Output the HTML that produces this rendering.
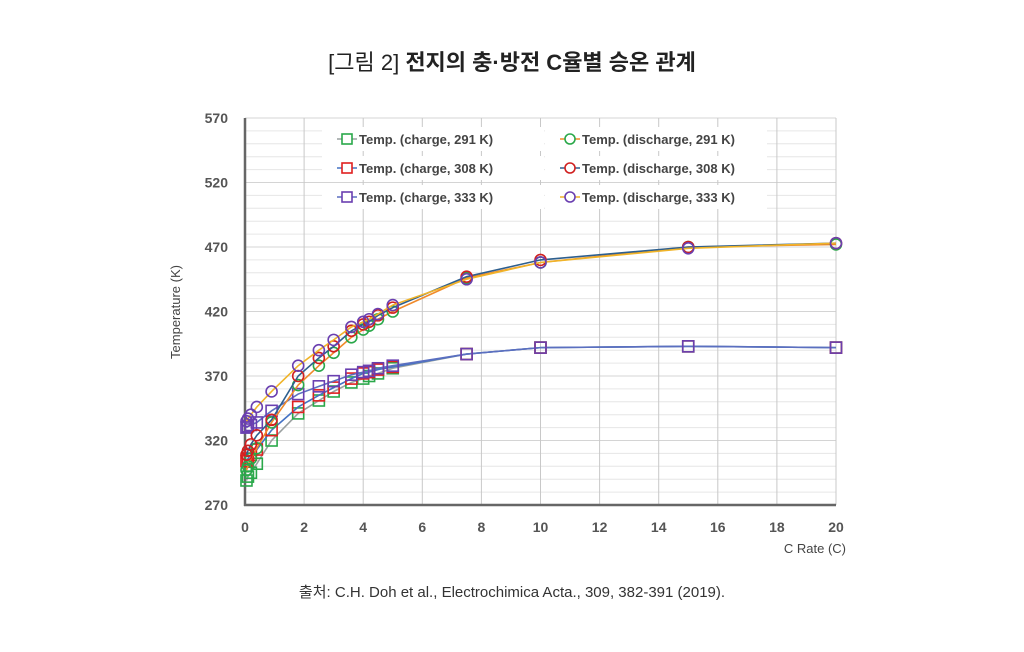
<!DOCTYPE html>
<html><head><meta charset="utf-8"><style>
body{margin:0;background:#fff;width:1024px;height:647px;overflow:hidden;font-family:"Liberation Sans","Noto Sans CJK KR",sans-serif}
</style></head><body>
<svg id="c" width="1024" height="647" xmlns="http://www.w3.org/2000/svg"></svg>
<script>
const xs=[0.05,0.1,0.2,0.4,0.9,1.8,2.5,3,3.6,4,4.2,4.5,5,7.5,10,15,20];
const charge291=[289,292,295,302,320,341,351,358,365,368,370,372,376,387,392,393,392];
const charge308=[304,306,309,313,328,346,355,361,368,372,373,375,377,387,392,393,392];
const charge333=[330,331,332,334,343,356,362,366,371,373,374,376,378,387,392,393,392];
const dis291=[297,300,306,314,334,363,378,388,400,406,409,414,420,446,458,470,472];
const dis308=[309,312,317,324,336,370,384,393,405,410,412,417,423,447,460,470,473];
const dis333=[335,337,340,346,358,378,390,398,408,412,414,418,425,445,458,469,473];
const xTicks=[0,2,4,6,8,10,12,14,16,18,20];
const yTicks=[270,320,370,420,470,520,570];
const legendLabels=["Temp. (charge, 291 K)","Temp. (charge, 308 K)","Temp. (charge, 333 K)","Temp. (discharge, 291 K)","Temp. (discharge, 308 K)","Temp. (discharge, 333 K)"];
const X=v=>245+v*(836-245)/20, Y=v=>505-(v-270)*(505-118)/300;
const svg=document.getElementById('c');const NS="http://www.w3.org/2000/svg";
function mk(t,a,p){const e=document.createElementNS(NS,t);for(const k in a)e.setAttribute(k,a[k]);(p||svg).appendChild(e);return e;}
let t=mk('text',{x:512,y:70,'text-anchor':'middle','font-size':22,fill:'#222'});
const t1=mk('tspan',{},t);t1.textContent="[그림 2] ";const t2=mk('tspan',{'font-weight':'bold'},t);t2.textContent="전지의 충·방전 C율별 승온 관계";

for(let v=280;v<570;v+=10){const l=mk('line',{x1:245,x2:836,y1:Y(v),y2:Y(v),stroke:'#e6e6e6','stroke-width':1});}
yTicks.forEach(v=>{if(v>270){const l=mk('line',{x1:245,x2:836,y1:Y(v),y2:Y(v),stroke:'#d4d4d4'});}
const tx=mk('text',{x:228,y:Y(v)+5,'text-anchor':'end','font-size':14,'font-weight':'bold',fill:'#555'});tx.textContent=v;});
xTicks.forEach(v=>{if(v>0){const l=mk('line',{x1:X(v),x2:X(v),y1:118,y2:505,stroke:'#c8c8c8'});}
const tx=mk('text',{x:X(v),y:532,'text-anchor':'middle','font-size':14,'font-weight':'bold',fill:'#555'});tx.textContent=v;});
let a=mk('line',{x1:245,x2:245,y1:118,y2:506,stroke:'#666','stroke-width':2.5});
a=mk('line',{x1:244,x2:836,y1:505,y2:505,stroke:'#666','stroke-width':2.5});
t=mk('text',{x:846,y:553,'text-anchor':'end','font-size':13,fill:'#444'});t.textContent="C Rate (C)";
t=mk('text',{x:180,y:312,'text-anchor':'middle','font-size':13,fill:'#444',transform:'rotate(-90 180 312)'});t.textContent="Temperature (K)";
const series=[[charge291,'#9aa0a0','#2aa84a','sq'],[charge308,'#4472c4','#e02020','sq'],[charge333,'#5b6fc0','#6a3fb0','sq'],[dis291,'#f08a2a','#2aa84a','ci'],[dis308,'#2e5f8e','#d02020','ci'],[dis333,'#f0b429','#6a3fb0','ci']];
series.forEach((s,i)=>{const d=xs.map((x,j)=>(j?'L':'M')+X(x)+','+Y(s[0][j])).join('');
const p=mk('path',{d,fill:'none',stroke:s[1],'stroke-width':1.6});
xs.forEach((x,j)=>{let m;if(s[3]=='sq')m=mk('rect',{x:X(x)-5.5,y:Y(s[0][j])-5.5,width:11,height:11,fill:'none',stroke:s[2],'stroke-width':1.6});
else m=mk('circle',{cx:X(x),cy:Y(s[0][j]),r:5.5,fill:'none',stroke:s[2],'stroke-width':1.6});
});
const lx=i<3?350:573, ly=139+(i%3)*29;
mk('rect',{x:lx-28,y:ly-12,width:222,height:24,fill:'#fff'});
const ll=mk('line',{x1:lx-13,x2:lx+7,y1:ly,y2:ly,stroke:s[1],'stroke-width':1.6});
if(s[3]=='sq')mk('rect',{x:lx-8,y:ly-5,width:10,height:10,fill:'#fff',stroke:s[2],'stroke-width':1.6});else mk('circle',{cx:lx-3,cy:ly,r:5,fill:'#fff',stroke:s[2],'stroke-width':1.6});
const lt=mk('text',{x:lx+9,y:ly+5,'font-size':13,'font-weight':'bold',fill:'#444'});lt.textContent=legendLabels[i];});
t=mk('text',{x:512,y:597,'text-anchor':'middle','font-size':15,fill:'#333'});t.textContent="출처: C.H. Doh et al., Electrochimica Acta., 309, 382-391 (2019).";
</script>
</body></html>
